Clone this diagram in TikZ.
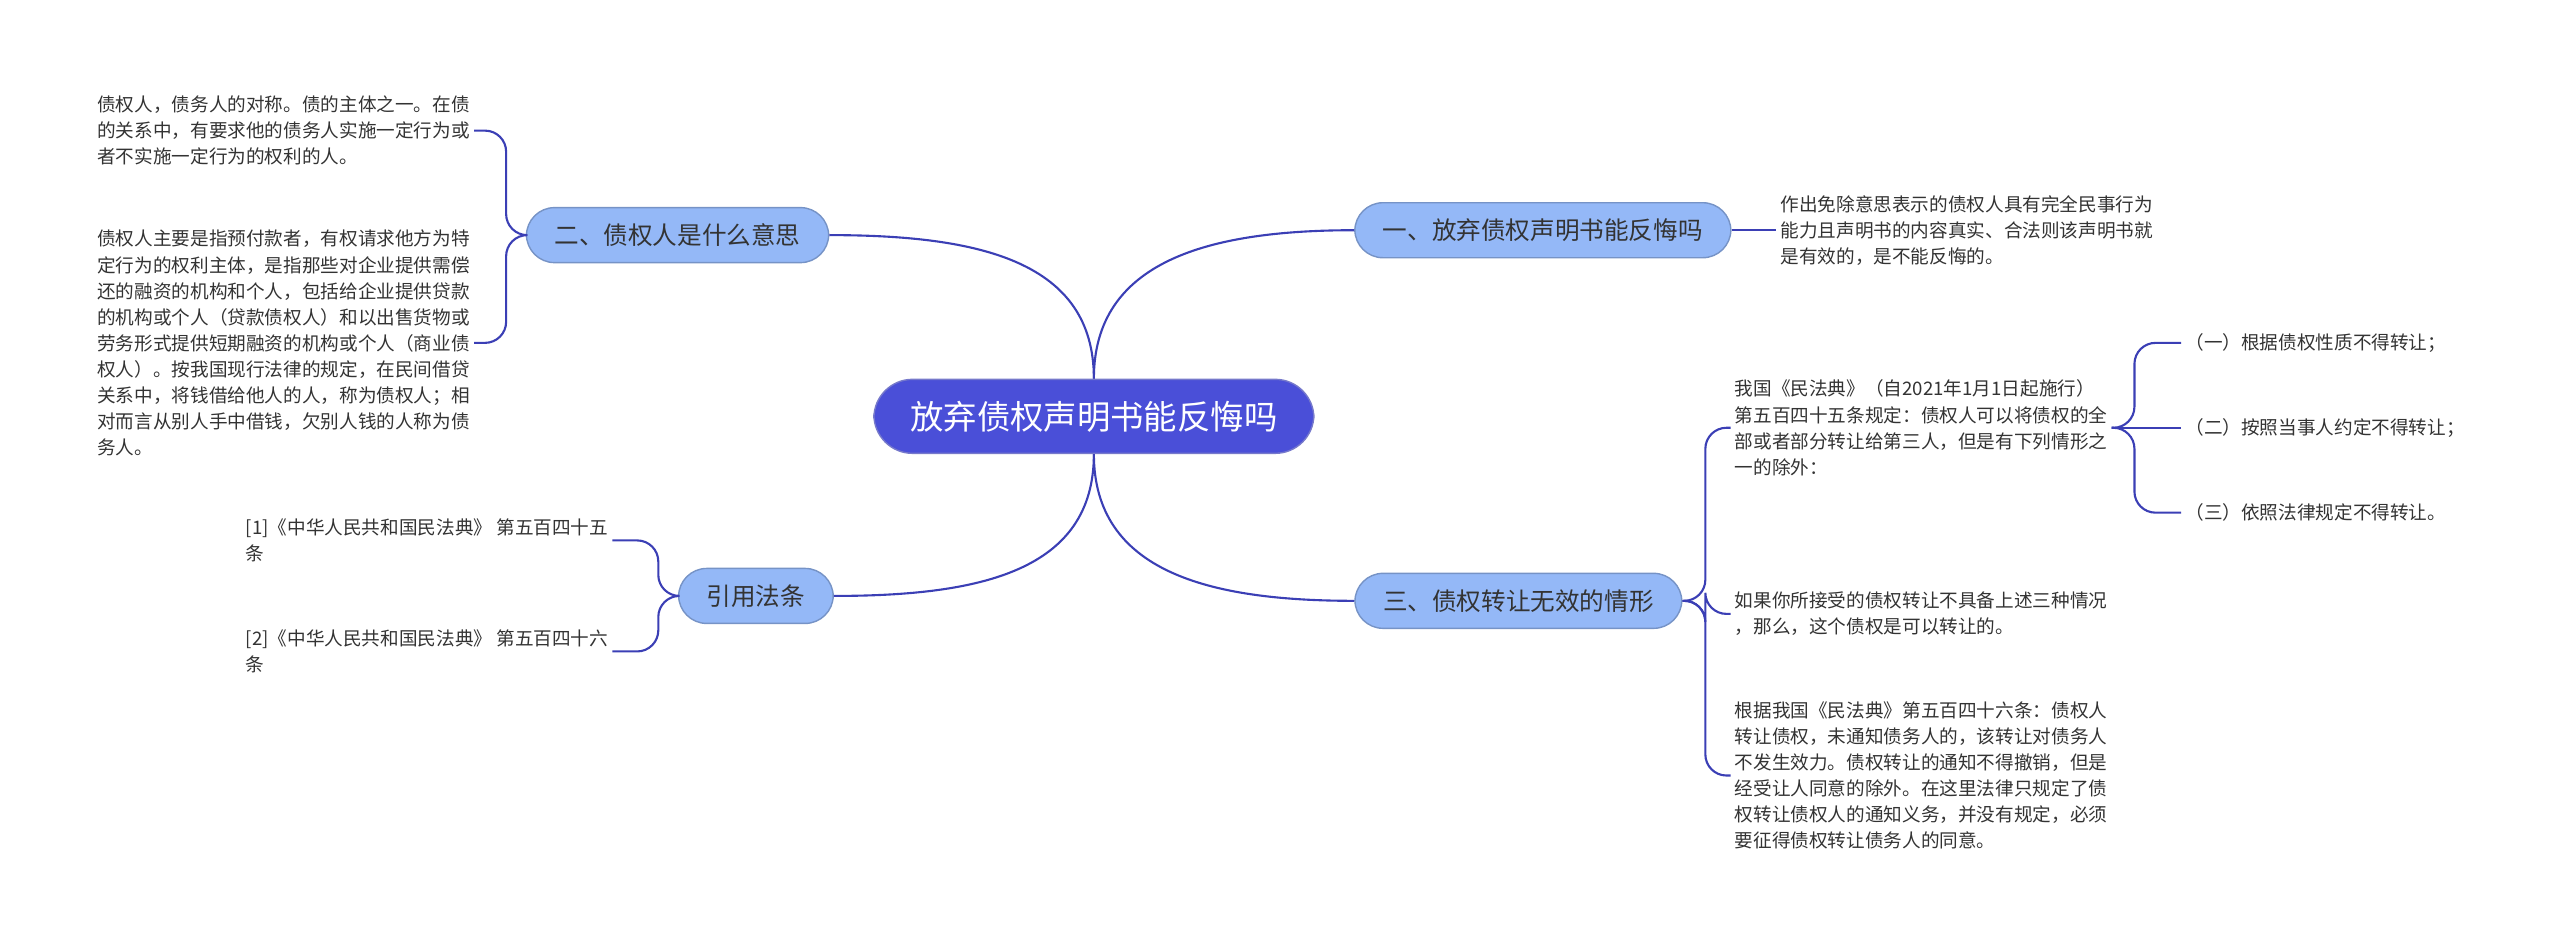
\documentclass[tikz,border=0pt]{standalone}
\usepackage{fontspec}
\setmainfont{Noto Sans CJK SC}
\definecolor{linkc}{HTML}{3B3FB5}
\definecolor{rootc}{HTML}{4A4FD8}
\definecolor{mainc}{HTML}{94B8F7}
\definecolor{leafc}{HTML}{333333}
\tikzset{
  root/.style={rectangle, rounded corners=11pt, fill=rootc, draw=linkc!70, text=white,
    minimum width=4.4cm, minimum height=0.74cm, font=\fontsize{9.5pt}{11pt}\selectfont},
  branch/.style={rectangle, rounded corners=8pt, fill=mainc, draw=mainc!80!black, text=leafc,
    minimum height=0.55cm, inner xsep=8pt, font=\fontsize{7pt}{8pt}\selectfont},
  leaf/.style={align=left, inner sep=1pt, text=leafc, font=\fontsize{5.3pt}{7.4pt}\selectfont},
  link/.style={draw=linkc, line width=0.6pt},
  brack/.style={link, rounded corners=6pt}
}
\begin{document}
\begin{tikzpicture}[x=0.016327cm, y=-0.016327cm]
    \useasboundingbox (0,0) rectangle (1568,577);
    % root and main branches
    \node (root) [root] at (670,255) {放弃债权声明书能反悔吗};
    \node (b1) [branch] at (945,141) {一、放弃债权声明书能反悔吗};
    \node (b2) [branch] at (415,144) {二、债权人是什么意思};
    \node (b3) [branch] at (930,368) {三、债权转让无效的情形};
    \node (b4) [branch] at (463,365) {引用法条};
    \draw [link] (root.north) .. controls (670,160) and (740,141) .. (b1.west);
    \draw [link] (root.north) .. controls (670,160) and (600,144) .. (b2.east);
    \draw [link] (root.south) .. controls (670,350) and (740,368) .. (b3.west);
    \draw [link] (root.south) .. controls (670,350) and (600,365) .. (b4.east);
    % leaves of branch one
    \node (l1) [leaf, anchor=west] at (1088,141) {作出免除意思表示的债权人具有完全民事行为\\能力且声明书的内容真实、合法则该声明书就\\是有效的，是不能反悔的。};
    \draw [link] (b1.east) -- (l1.west);
    % leaves of branch two
    \node (l2a) [leaf, anchor=west] at (57,80) {债权人，债务人的对称。债的主体之一。在债\\的关系中，有要求他的债务人实施一定行为或\\者不实施一定行为的权利的人。};
    \node (l2b) [leaf, anchor=west] at (57,210) {债权人主要是指预付款者，有权请求他方为特\\定行为的权利主体，是指那些对企业提供需偿\\还的融资的机构和个人，包括给企业提供贷款\\的机构或个人（贷款债权人）和以出售货物或\\劳务形式提供短期融资的机构或个人（商业债\\权人）。按我国现行法律的规定，在民间借贷\\关系中，将钱借给他人的人，称为债权人；相\\对而言从别人手中借钱，欠别人钱的人称为债\\务人。};
    \draw [brack] (b2.west) -- ++(-12,0) |- (l2a.east);
    \draw [brack] (b2.west) -- ++(-12,0) |- (l2b.east);
    % leaves of branch three
    \node (l3a) [leaf, anchor=west] at (1060,262) {我国《民法典》（自2021年1月1日起施行）\\第五百四十五条规定：债权人可以将债权的全\\部或者部分转让给第三人，但是有下列情形之\\一的除外：};
    \node (l3b) [leaf, anchor=west] at (1060,376) {如果你所接受的债权转让不具备上述三种情况\\，那么，这个债权是可以转让的。};
    \node (l3c) [leaf, anchor=west] at (1060,475) {根据我国《民法典》第五百四十六条：债权人\\转让债权，未通知债务人的，该转让对债务人\\不发生效力。债权转让的通知不得撤销，但是\\经受让人同意的除外。在这里法律只规定了债\\权转让债权人的通知义务，并没有规定，必须\\要征得债权转让债务人的同意。};
    \draw [brack] (b3.east) -- ++(14,0) |- (l3a.west);
    \draw [brack] (b3.east) -- ++(14,0) |- (l3b.west);
    \draw [brack] (b3.east) -- ++(14,0) |- (l3c.west);
    \node (s1) [leaf, anchor=west] at (1336,210) {（一）根据债权性质不得转让；};
    \node (s2) [leaf, anchor=west] at (1336,262) {（二）按照当事人约定不得转让；};
    \node (s3) [leaf, anchor=west] at (1336,314) {（三）依照法律规定不得转让。};
    \draw [brack] (l3a.east) -- ++(14,0) |- (s1.west);
    \draw [link] (l3a.east) -- (s2.west);
    \draw [brack] (l3a.east) -- ++(14,0) |- (s3.west);
    % leaves of branch four
    \node (l4a) [leaf, anchor=west] at (148,331) {[1]《中华人民共和国民法典》 第五百四十五\\条};
    \node (l4b) [leaf, anchor=west] at (148,399) {[2]《中华人民共和国民法典》 第五百四十六\\条};
    \draw [brack] (b4.west) -- ++(-12,0) |- (l4a.east);
    \draw [brack] (b4.west) -- ++(-12,0) |- (l4b.east);
\end{tikzpicture}
\end{document}
